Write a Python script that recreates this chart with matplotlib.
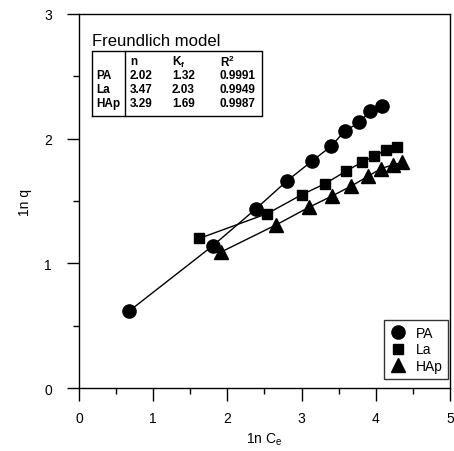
import matplotlib
matplotlib.use('Agg')
import matplotlib.pyplot as plt
from matplotlib.ticker import MultipleLocator

# 字体
plt.rcParams['font.family'] = ['Liberation Sans', 'DejaVu Sans']
plt.rcParams['mathtext.fontset'] = 'custom'
plt.rcParams['mathtext.rm'] = 'Liberation Sans'
plt.rcParams['mathtext.it'] = 'Liberation Sans'
plt.rcParams['mathtext.bf'] = 'Liberation Sans:bold'

# data
pa_x = [0.68, 1.80, 2.39, 2.80, 3.14, 3.40, 3.58, 3.78, 3.92, 4.08]
pa_y = [0.62, 1.14, 1.44, 1.66, 1.82, 1.94, 2.06, 2.13, 2.22, 2.26]
la_x = [1.62, 2.54, 3.00, 3.32, 3.60, 3.81, 3.98, 4.14, 4.28]
la_y = [1.20, 1.40, 1.55, 1.64, 1.74, 1.81, 1.86, 1.91, 1.93]
hap_x = [1.91, 2.66, 3.10, 3.41, 3.67, 3.90, 4.07, 4.23, 4.36]
hap_y = [1.09, 1.31, 1.45, 1.54, 1.62, 1.70, 1.76, 1.79, 1.81]

# Freundlich table
row_names = ['PA', 'La', 'HAp']
n_vals = ['2.02', '3.47', '3.29']
kf_vals = ['1.32', '2.03', '1.69']
r2_vals = ['0.9991', '0.9949', '0.9987']

fig = plt.figure(figsize=(4.54, 4.52), dpi=100)
ax = fig.add_axes([0.174, 0.139, 0.817, 0.828])

ax.plot(pa_x, pa_y, '-o', color='black', lw=1, ms=9.5, label='PA')
ax.plot(la_x, la_y, '-s', color='black', lw=1, ms=7.5, label='La')
ax.plot(hap_x, hap_y, '-^', color='black', lw=1, ms=9.5, label='HAp')

ax.set_xlim(0, 5)
ax.set_ylim(0, 3)
ax.xaxis.set_major_locator(MultipleLocator(1))
ax.xaxis.set_minor_locator(MultipleLocator(0.5))
ax.yaxis.set_major_locator(MultipleLocator(1))
ax.yaxis.set_minor_locator(MultipleLocator(0.5))
ax.tick_params(which='major', direction='out', length=9, width=1, labelsize=10, top=False, right=False)
ax.tick_params(axis='y', which='major', pad=10.5)
ax.tick_params(axis='x', which='major', pad=7.5)
ax.tick_params(which='minor', direction='out', length=4, width=1, top=False, right=False)
for s in ax.spines.values():
    s.set_linewidth(1)

ax.set_xlabel('1n C$_\\mathrm{e}$', fontsize=10, labelpad=4)
ax.set_ylabel('1n q', fontsize=10, labelpad=9)

leg = ax.legend(loc='lower right', bbox_to_anchor=(0.995, 0.025), fontsize=10, frameon=True,
                fancybox=False, edgecolor='black', handlelength=1.2, handletextpad=0.7,
                borderpad=0.4, labelspacing=0.2, borderaxespad=0.0)
leg.get_frame().set_linewidth(1)
for h in leg.legend_handles:
    h.set_linestyle('none')

# table
tr = ax.transAxes
ax.text(0.035, 0.928, 'Freundlich model', transform=tr, fontsize=12, va='center', ha='left')
x0, x1, xs = 0.035, 0.493, 0.124
y0, y1 = 0.727, 0.901
ax.plot([x0, x1, x1, x0, x0], [y0, y0, y1, y1, y0], color='black', lw=1, transform=tr, clip_on=False)
ax.plot([xs, xs], [y0, y1], color='black', lw=1, transform=tr)
row_y = [0.874, 0.837, 0.799, 0.762]
col_x = [0.046, 0.137, 0.251, 0.380]
headers = ['n', 'K$_\\mathbf{f}$', 'R$^\\mathbf{2}$']
for j, h in enumerate(headers):
    ax.text(col_x[j + 1], row_y[0], h, transform=tr, fontsize=8.5, va='center', ha='left',
            fontweight='bold')
for i in range(len(row_names)):
    vals = [row_names[i], n_vals[i], kf_vals[i], r2_vals[i]]
    for j, v in enumerate(vals):
        ax.text(col_x[j], row_y[i + 1], v, transform=tr, fontsize=8.5, va='center', ha='left',
                fontweight='bold')

fig.savefig('out.png', dpi=100)
